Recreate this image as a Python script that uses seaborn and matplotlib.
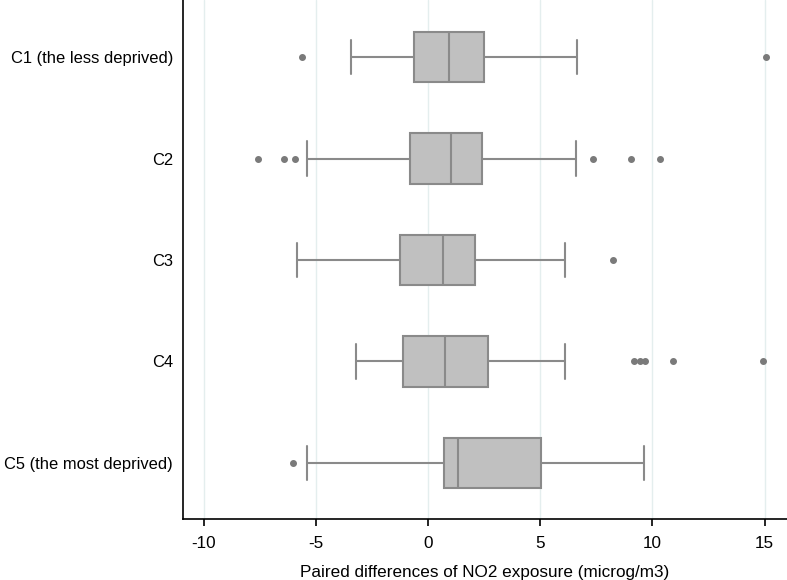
import numpy as np
import pandas as pd
import matplotlib
matplotlib.use("Agg")
import matplotlib.pyplot as plt
import seaborn as sns

# Values (microg/m3)
categories = ["C1 (the less deprived)", "C2", "C3", "C4", "C5 (the most deprived)"]
q1 = [-0.64, -0.80, -1.26, -1.12, 0.69]
median = [0.93, 1.02, 0.64, 0.76, 1.35]
q3 = [2.47, 2.39, 2.08, 2.66, 5.02]
whisker_low = [-3.44, -5.42, -5.85, -3.24, -5.40]
whisker_high = [6.64, 6.57, 6.12, 6.09, 9.62]
outliers = [
    [-5.62, 15.05],
    [-7.61, -6.45, -5.92, 7.35, 9.03, 10.35],
    [8.22],
    [9.17, 9.43, 9.67, 10.93, 14.95],
    [-6.02],
]
xticks = [-10, -5, 0, 5, 10, 15]
xlabel = "Paired differences of NO2 exposure (microg/m3)"

# Build a sample per category that reproduces the read box statistics
rows = []
for cat, a, m, b, lo, hi, out in zip(categories, q1, median, q3,
                                     whisker_low, whisker_high, outliers):
    vals = [lo, hi] + list(out) + [a] * 20 + [m] * 20 + [b] * 20
    rows += [(cat, v) for v in vals]
df = pd.DataFrame(rows, columns=["group", "value"])

sns.set_style("white")
plt.rcParams["font.family"] = ["Liberation Sans", "DejaVu Sans"]

fig = plt.figure(figsize=(7.87, 5.80), dpi=100)
ax = fig.add_axes([0.2321, 0.1047, 0.7679, 0.8953])

edge = "#8a8a8a"
sns.boxplot(data=df, x="value", y="group", order=categories, ax=ax,
            color="#c0c0c0", width=0.5, whis=1.5, linewidth=1.5,
            saturation=1,
            boxprops=dict(facecolor="#c0c0c0", edgecolor=edge),
            whiskerprops=dict(color=edge),
            capprops=dict(color=edge),
            medianprops=dict(color=edge),
            flierprops=dict(marker="o", markersize=4, markerfacecolor="#7a7a7a",
                            markeredgecolor="#7a7a7a"))

# widen whisker caps to match the reference
for ln in ax.lines:
    xd = np.asarray(ln.get_xdata(), dtype=float)
    yd = np.asarray(ln.get_ydata(), dtype=float)
    if len(xd) == 2 and np.isclose(xd[0], xd[1]) and not np.isclose(yd[0], yd[1]):
        c = (yd[0] + yd[1]) / 2
        if abs(yd[1] - yd[0]) < 0.4:
            ln.set_ydata([c - 0.168, c + 0.168])

ax.set_xlim(-10.95, 16.0)
ax.set_ylim(4.555, -0.562)
ax.set_xticks(xticks)
ax.set_xticklabels([str(t) for t in xticks])
ax.xaxis.grid(True, color="#e4eeee", linewidth=1.0)
ax.set_axisbelow(True)
ax.set_ylabel("")
ax.set_xlabel(xlabel, fontsize=12.3, color="black", labelpad=10)
for s in ["top", "right"]:
    ax.spines[s].set_visible(False)
for s in ["left", "bottom"]:
    ax.spines[s].set_color("black")
    ax.spines[s].set_linewidth(1.2)
ax.tick_params(axis="x", bottom=True, length=5.3, width=1.2, color="black",
               labelsize=12.3, labelcolor="black", pad=6.5)
ax.tick_params(axis="y", left=False, length=0, labelsize=11.9,
               labelcolor="black", pad=7)

fig.savefig("out.png", dpi=100)
